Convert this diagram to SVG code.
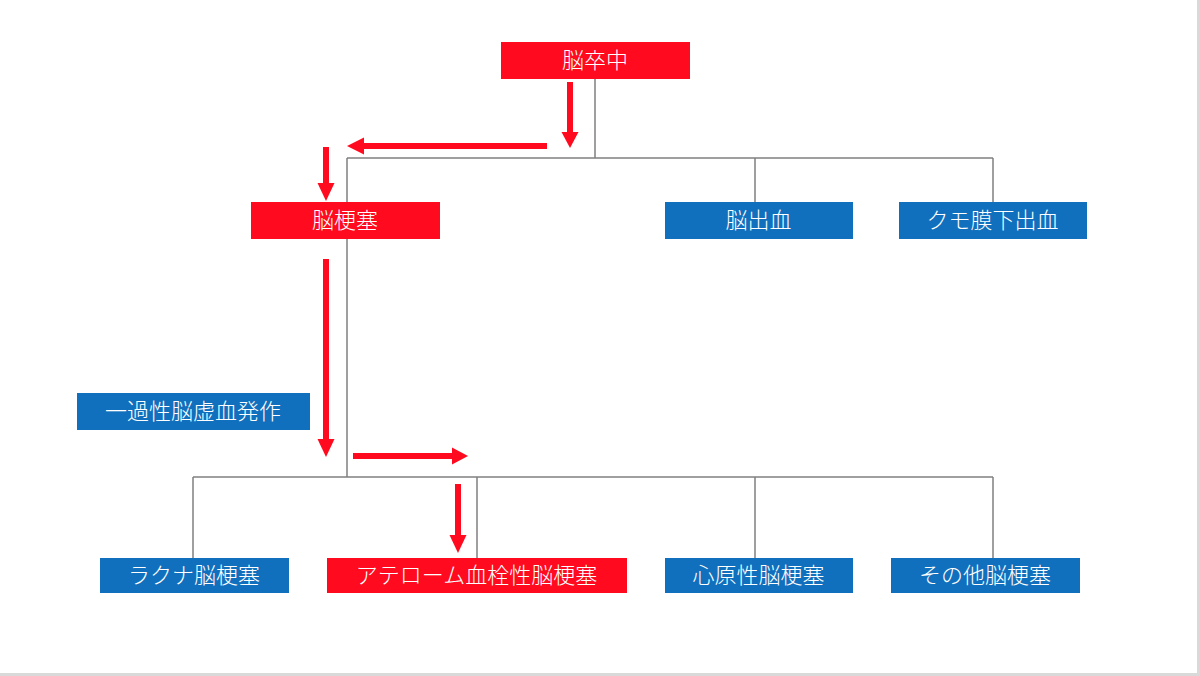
<svg xmlns="http://www.w3.org/2000/svg" width="1200" height="676" viewBox="0 0 1200 676">
<defs>
<style>
.red{fill:#ff0a1e}
.blue{fill:#1170bd}
.lbl{font-family:"Noto Sans CJK JP","Noto Sans",sans-serif;font-size:22px;font-weight:300;fill:#ffffff;text-anchor:middle;dominant-baseline:central}
.ln{stroke:#808080;stroke-width:1.5;fill:none}
.ar{stroke:#ff0a1e;stroke-width:6;fill:none}
.hd{fill:#ff0a1e}
</style>
</defs>
<rect x="0" y="0" width="1200" height="676" fill="#ffffff"/>
<path d="M0 674.5H1198.5V0" stroke="#d9d9d9" stroke-width="3" fill="none"/>
<g id="connectors">
<path class="ln" d="M595 79V158M347 158H993M347 158V202M755 158V202M993 158V202"/>
<path class="ln" d="M347 239V477M193 477H993M193 477V558M477 477V558M755 477V558M993 477V558"/>
</g>
<g id="arrows">
<path class="ar" d="M570 82V134"/><path class="hd" d="M561.5 132H578.5L570 148Z"/>
<path class="ar" d="M547 146H362"/><path class="hd" d="M364 137.5V154.5L347 146Z"/>
<path class="ar" d="M326 147V185"/><path class="hd" d="M317.5 183H334.5L326 201Z"/>
<path class="ar" d="M326 259V441"/><path class="hd" d="M317.5 439H334.5L326 457Z"/>
<path class="ar" d="M353 456H454"/><path class="hd" d="M452 447.5V464.5L468 456Z"/>
<path class="ar" d="M458 484V537"/><path class="hd" d="M449.5 535H466.5L458 553Z"/>
</g>
<g id="n1"><rect class="red" x="501" y="42" width="189" height="37"/><text class="lbl" x="595" y="58">脳卒中</text></g>
<g id="n2"><rect class="red" x="251" y="202" width="189" height="37"/><text class="lbl" x="345" y="218">脳梗塞</text></g>
<g id="n3"><rect class="blue" x="665" y="202" width="188" height="37"/><text class="lbl" x="758.5" y="218">脳出血</text></g>
<g id="n4"><rect class="blue" x="899" y="202" width="188" height="37"/><text class="lbl" x="992.5" y="218">クモ膜下出血</text></g>
<g id="n5"><rect class="blue" x="77" y="393" width="233" height="37"/><text class="lbl" x="193" y="409">一過性脳虚血発作</text></g>
<g id="n6"><rect class="blue" x="100" y="558" width="189" height="35"/><text class="lbl" x="194" y="572.5">ラクナ脳梗塞</text></g>
<g id="n7"><rect class="red" x="327" y="558" width="300" height="35"/><text class="lbl" x="476.5" y="572.5">アテローム血栓性脳梗塞</text></g>
<g id="n8"><rect class="blue" x="665" y="558" width="188" height="35"/><text class="lbl" x="758.5" y="572.5">心原性脳梗塞</text></g>
<g id="n9"><rect class="blue" x="891" y="558" width="189" height="35"/><text class="lbl" x="985" y="572.5">その他脳梗塞</text></g>
</svg>
